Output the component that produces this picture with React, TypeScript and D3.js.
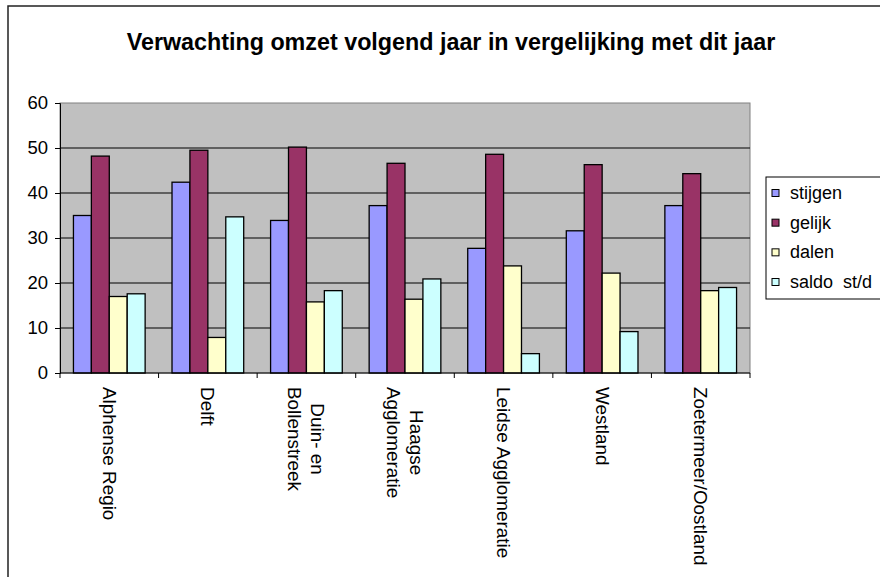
import { useEffect, useRef } from 'react';
import * as d3 from 'd3';

const CATEGORIES = [
  'Alphense Regio',
  'Delft',
  'Duin- en\nBollenstreek',
  'Haagse\nAgglomeratie',
  'Leidse Agglomeratie',
  'Westland',
  'Zoetermeer/Oostland',
];
const SERIES = ['stijgen', 'gelijk', 'dalen', 'saldo  st/d'];
const STIJGEN = [35.0, 42.4, 33.9, 37.2, 27.7, 31.6, 37.2];
const GELIJK = [48.2, 49.5, 50.2, 46.6, 48.6, 46.3, 44.3];
const DALEN = [17.0, 7.9, 15.8, 16.4, 23.8, 22.2, 18.3];
const SALDO = [17.6, 34.7, 18.3, 20.9, 4.3, 9.2, 19.0];
const Y_TICKS = [0, 10, 20, 30, 40, 50, 60];

const COLORS = ['#9999ff', '#993366', '#ffffcc', '#ccffff'];
const TITLE = 'Verwachting omzet volgend jaar in vergelijking met dit jaar';

const W = 880;
const H = 577;
const PLOT = { left: 60, right: 750, top: 103, bottom: 373 };
const FONT = 'Arial, "Liberation Sans", sans-serif';

export default function App() {
  const svgRef = useRef<SVGSVGElement>(null);

  useEffect(() => {
    const svg = d3.select(svgRef.current!);
    svg.selectAll('*').remove();

    const values = [STIJGEN, GELIJK, DALEN, SALDO];

    const x0 = d3.scaleBand<string>().domain(CATEGORIES).range([PLOT.left, PLOT.right]);
    const x1 = d3
      .scaleBand<string>()
      .domain(SERIES)
      .range([0, x0.bandwidth()])
      .paddingInner(0)
      .paddingOuter(0.75);
    const y = d3.scaleLinear().domain([0, 60]).range([PLOT.bottom, PLOT.top]);

    // outer chart frame
    svg.append('rect')
      .attr('x', 8).attr('y', 6).attr('width', W).attr('height', H)
      .attr('fill', '#fff').attr('stroke', '#222').attr('stroke-width', 1.5);

    svg.append('text')
      .attr('x', 451).attr('y', 50)
      .attr('text-anchor', 'middle')
      .attr('font-family', FONT).attr('font-weight', 'bold').attr('font-size', 23.3)
      .text(TITLE);

    // plot area
    svg.append('rect')
      .attr('x', PLOT.left).attr('y', PLOT.top)
      .attr('width', PLOT.right - PLOT.left).attr('height', PLOT.bottom - PLOT.top)
      .attr('fill', '#c0c0c0').attr('stroke', '#808080').attr('stroke-width', 1);

    svg.append('g')
      .selectAll('line')
      .data(Y_TICKS.filter((t) => t > 0 && t < 60))
      .join('line')
      .attr('x1', PLOT.left).attr('x2', PLOT.right)
      .attr('y1', (d) => y(d)).attr('y2', (d) => y(d))
      .attr('stroke', '#000').attr('stroke-width', 1);

    // bars
    const groups = svg.append('g')
      .selectAll('g')
      .data(CATEGORIES)
      .join('g')
      .attr('transform', (c) => `translate(${x0(c)},0)`);

    groups.selectAll('rect')
      .data((_, ci) => SERIES.map((s, si) => ({ s, si, v: values[si][ci] })))
      .join('rect')
      .attr('x', (d) => x1(d.s)!)
      .attr('y', (d) => y(d.v))
      .attr('width', x1.bandwidth())
      .attr('height', (d) => y(0) - y(d.v))
      .attr('fill', (d) => COLORS[d.si])
      .attr('stroke', '#000').attr('stroke-width', 1.3);

    // y axis
    const yAxis = svg.append('g')
      .attr('transform', `translate(${PLOT.left},0)`)
      .call(d3.axisLeft(y).tickValues(Y_TICKS).tickSize(5).tickPadding(7));
    yAxis.select('.domain').attr('stroke', '#000');
    yAxis.selectAll('.tick line').attr('stroke', '#000');
    yAxis.selectAll('.tick text')
      .attr('fill', '#000').attr('font-size', 18.5).attr('font-family', FONT);

    // x axis line + ticks at category boundaries
    svg.append('line')
      .attr('x1', PLOT.left).attr('x2', PLOT.right)
      .attr('y1', PLOT.bottom).attr('y2', PLOT.bottom)
      .attr('stroke', '#000');
    const edges = CATEGORIES.map((c) => x0(c)!).concat([x0.range()[1]]);
    svg.append('g')
      .selectAll('line')
      .data(edges)
      .join('line')
      .attr('x1', (d) => d).attr('x2', (d) => d)
      .attr('y1', PLOT.bottom).attr('y2', PLOT.bottom + 5)
      .attr('stroke', '#000');

    // category labels, rotated to read top to bottom
    const labelTop = PLOT.bottom + 14;
    const lineH = 23;
    CATEGORIES.forEach((c) => {
      const lines = c.split('\n');
      const cx = x0(c)! + x0.bandwidth() / 2;
      const g = svg.append('g').attr('transform', `translate(${cx},${labelTop}) rotate(90)`);
      const texts = lines.map((ln, i) =>
        g.append('text')
          .attr('y', (i - (lines.length - 1) / 2) * lineH)
          .attr('dominant-baseline', 'central')
          .attr('font-family', FONT).attr('font-size', 18.9)
          .text(ln)
      );
      const widths = texts.map((t) => (t.node() as SVGTextElement).getComputedTextLength());
      const maxW = d3.max(widths) ?? 0;
      texts.forEach((t) => t.attr('x', maxW / 2).attr('text-anchor', 'middle'));
    });

    // legend
    svg.append('rect')
      .attr('x', 766).attr('y', 177).attr('width', 140).attr('height', 122)
      .attr('fill', '#fff').attr('stroke', '#000').attr('stroke-width', 1);
    const ly = d3.scalePoint<string>().domain(SERIES).range([193, 282]);
    const items = svg.append('g')
      .selectAll('g')
      .data(SERIES)
      .join('g')
      .attr('transform', (s) => `translate(772,${ly(s)})`);
    items.append('rect')
      .attr('x', 0).attr('y', -3.5).attr('width', 7).attr('height', 7)
      .attr('fill', (_, i) => COLORS[i]).attr('stroke', '#000').attr('stroke-width', 1);
    items.append('text')
      .attr('x', 18)
      .attr('dominant-baseline', 'central')
      .attr('font-family', FONT).attr('font-size', 18)
      .attr('xml:space', 'preserve')
      .style('white-space', 'pre')
      .text((s) => s);
  }, []);

  return (
    <svg
      ref={svgRef}
      width={W}
      height={H}
      style={{ position: 'absolute', left: 0, top: 0, background: '#fff' }}
    />
  );
}
